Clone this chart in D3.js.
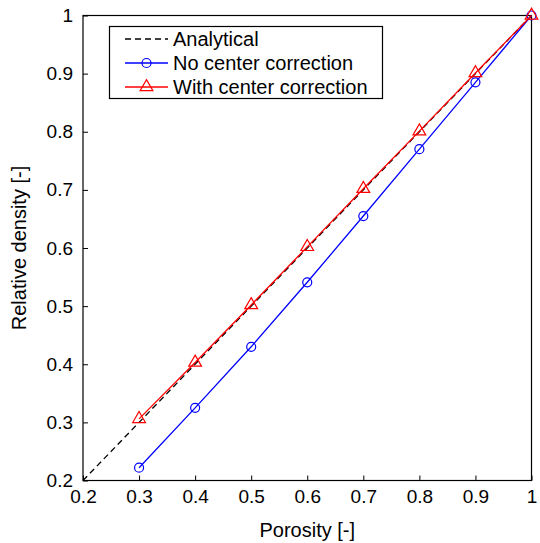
<!DOCTYPE html>
<meta charset="utf-8">
<style>
  body { margin: 0; background: #fff; }
  text { font-family: "Liberation Sans", Arial, sans-serif; }
</style>
<body>
<script src="https://d3js.org/d3.v7.min.js"></script>
<script>

var width = 540,
    height = 543;

var margin = {left: 83, right: 8, top: 15, bottom: 62};

// data
var porosity = [0.3, 0.4, 0.5, 0.6, 0.7, 0.8, 0.9, 1.0];
var noCorrection = [0.222, 0.325, 0.430, 0.541, 0.655, 0.770, 0.885, 1.0];
var withCorrection = [0.306, 0.403, 0.502, 0.602, 0.702, 0.801, 0.901, 1.0];
var analytical = [[0.2, 0.2], [1, 1]];
var ticks = [0.2, 0.3, 0.4, 0.5, 0.6, 0.7, 0.8, 0.9, 1];
var legendLabels = ["Analytical", "No center correction", "With center correction"];

var svg = d3.select("body").append("svg")
    .attr("width", width)
    .attr("height", height);

var x = d3.scaleLinear().domain([0.2, 1]).range([margin.left, width - margin.right - 0.5]);
var y = d3.scaleLinear().domain([0.2, 1]).range([height - margin.bottom - 0.5, margin.top + 0.5]);

var fmt = function(d) { return d === 1 ? "1" : d3.format(".1f")(d); };

// axes, ticks pointing in
svg.append("g")
    .attr("transform", "translate(0," + y(0.2) + ")")
    .call(d3.axisBottom(x).tickValues(ticks).tickFormat(fmt).tickSizeInner(-5).tickSizeOuter(0).tickPadding(9))
    .call(function(g) {
      g.select(".domain").remove();
      g.selectAll("text").attr("font-size", 19).attr("fill", "#000").attr("font-family", "Liberation Sans, Arial, sans-serif");
    });

svg.append("g")
    .attr("transform", "translate(" + x(0.2) + ",0)")
    .call(d3.axisLeft(y).tickValues(ticks).tickFormat(fmt).tickSizeInner(-5).tickSizeOuter(0).tickPadding(10))
    .call(function(g) {
      g.select(".domain").remove();
      g.selectAll("text").attr("font-size", 19).attr("fill", "#000").attr("font-family", "Liberation Sans, Arial, sans-serif");
    });

// box
svg.append("rect")
    .attr("x", x(0.2))
    .attr("y", y(1))
    .attr("width", x(1) - x(0.2))
    .attr("height", y(0.2) - y(1))
    .attr("fill", "none")
    .attr("stroke", "#000")
    .attr("stroke-width", 1.2);

var line = d3.line().x(function(d) { return x(d[0]); }).y(function(d) { return y(d[1]); });

svg.append("path")
    .attr("d", line(analytical))
    .attr("fill", "none")
    .attr("stroke", "#000")
    .attr("stroke-width", 1.3)
    .attr("stroke-dasharray", "6,4");

var blue = porosity.map(function(p, i) { return [p, noCorrection[i]]; });
var red = porosity.map(function(p, i) { return [p, withCorrection[i]]; });

svg.append("path")
    .attr("d", line(blue))
    .attr("fill", "none")
    .attr("stroke", "#0000ff")
    .attr("stroke-width", 1.3);

svg.selectAll(".circ").data(blue).enter().append("circle")
    .attr("cx", function(d) { return x(d[0]); })
    .attr("cy", function(d) { return y(d[1]); })
    .attr("r", 4.5)
    .attr("fill", "none")
    .attr("stroke", "#0000ff")
    .attr("stroke-width", 1.2);

svg.append("path")
    .attr("d", line(red))
    .attr("fill", "none")
    .attr("stroke", "#ff0000")
    .attr("stroke-width", 1.3);

var tri = d3.symbol().type(d3.symbolTriangle).size(70);

svg.selectAll(".tri").data(red).enter().append("path")
    .attr("d", tri)
    .attr("transform", function(d) { return "translate(" + x(d[0]) + "," + y(d[1]) + ")"; })
    .attr("fill", "none")
    .attr("stroke", "#ff0000")
    .attr("stroke-width", 1.2);

// axis titles
svg.append("text")
    .attr("x", (x(0.2) + x(1)) / 2)
    .attr("y", 537)
    .attr("text-anchor", "middle")
    .attr("font-size", 20)
    .text("Porosity [-]");

svg.append("text")
    .attr("transform", "translate(26," + (y(0.2) + y(1)) / 2 + ") rotate(-90)")
    .attr("text-anchor", "middle")
    .attr("font-size", 20)
    .text("Relative density [-]");

// legend
var legend = svg.append("g");
legend.append("rect")
    .attr("x", 109.5).attr("y", 26.5)
    .attr("width", 273).attr("height", 72)
    .attr("fill", "#fff")
    .attr("stroke", "#000")
    .attr("stroke-width", 1.2);

var rowY = [39, 63, 87];
var colors = ["#000", "#0000ff", "#ff0000"];
legendLabels.forEach(function(lab, i) {
  var g = legend.append("g");
  g.append("line")
      .attr("x1", 125).attr("x2", 168)
      .attr("y1", rowY[i]).attr("y2", rowY[i])
      .attr("stroke", colors[i])
      .attr("stroke-width", 1.3)
      .attr("stroke-dasharray", i === 0 ? "6,4" : null);
  if (i === 1) {
    g.append("circle").attr("cx", 146.5).attr("cy", rowY[i]).attr("r", 4.5)
        .attr("fill", "none").attr("stroke", colors[i]).attr("stroke-width", 1.2);
  }
  if (i === 2) {
    g.append("path").attr("d", tri).attr("transform", "translate(146.5," + rowY[i] + ")")
        .attr("fill", "none").attr("stroke", colors[i]).attr("stroke-width", 1.2);
  }
  g.append("text")
      .attr("x", 173).attr("y", rowY[i] + 7)
      .attr("font-size", 20)
      .text(lab);
});

</script>
